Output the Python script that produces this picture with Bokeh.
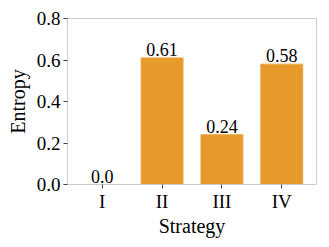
from bokeh.plotting import figure
from bokeh.models import ColumnDataSource, FixedTicker, PrintfTickFormatter, FactorRange
from bokeh.core.properties import value
from bokeh.embed import file_html
from bokeh.resources import INLINE

strategies = ["I", "II", "III", "IV"]
entropy = [0.0, 0.61, 0.24, 0.58]
labels = ["0.0", "0.61", "0.24", "0.58"]
y_ticks = [0.0, 0.2, 0.4, 0.6, 0.8]
x_title = "Strategy"
y_title = "Entropy"

src = ColumnDataSource(dict(x=strategies, y=entropy, lab=labels))

FONT = "Liberation Serif"
p = figure(x_range=FactorRange(*strategies, range_padding=0.04), y_range=(0, 0.8),
           width=321, height=239, output_backend="svg", toolbar_location=None,
           min_border_left=67, min_border_right=5, min_border_top=18, min_border_bottom=53)

p.vbar(x="x", top="y", width=0.7, source=src, fill_color="#e69a2c", line_color="#e9a545", line_width=1)
p.text(x="x", y="y", text="lab", source=src, text_align="center", text_baseline="bottom",
       y_offset=-2, text_font=value(FONT), text_font_size="18px", text_color="black")

p.xgrid.visible = False
p.ygrid.visible = False
p.outline_line_color = "#cccccc"
p.outline_line_width = 1

for ax in (p.xaxis[0], p.yaxis[0]):
    ax.axis_line_color = "#cccccc"
    ax.major_tick_line_color = "#444444"
    ax.major_tick_out = 4
    ax.major_tick_in = 0
    ax.minor_tick_line_color = None
    ax.major_label_text_font = FONT
    ax.major_label_text_font_size = "19px"
    ax.major_label_text_color = "black"
    ax.axis_label_text_font = FONT
    ax.axis_label_text_font_size = "20px"
    ax.axis_label_text_font_style = "normal"
    ax.axis_label_text_color = "black"

p.yaxis.ticker = FixedTicker(ticks=y_ticks)
p.yaxis.formatter = PrintfTickFormatter(format="%.1f")
p.yaxis.axis_label = y_title
p.xaxis.axis_label = x_title
p.yaxis.major_label_standoff = 3
p.xaxis.major_label_standoff = 2
p.yaxis.axis_label_standoff = 5
p.xaxis.axis_label_standoff = 0

open("out.html", "w").write(file_html(p, INLINE))
